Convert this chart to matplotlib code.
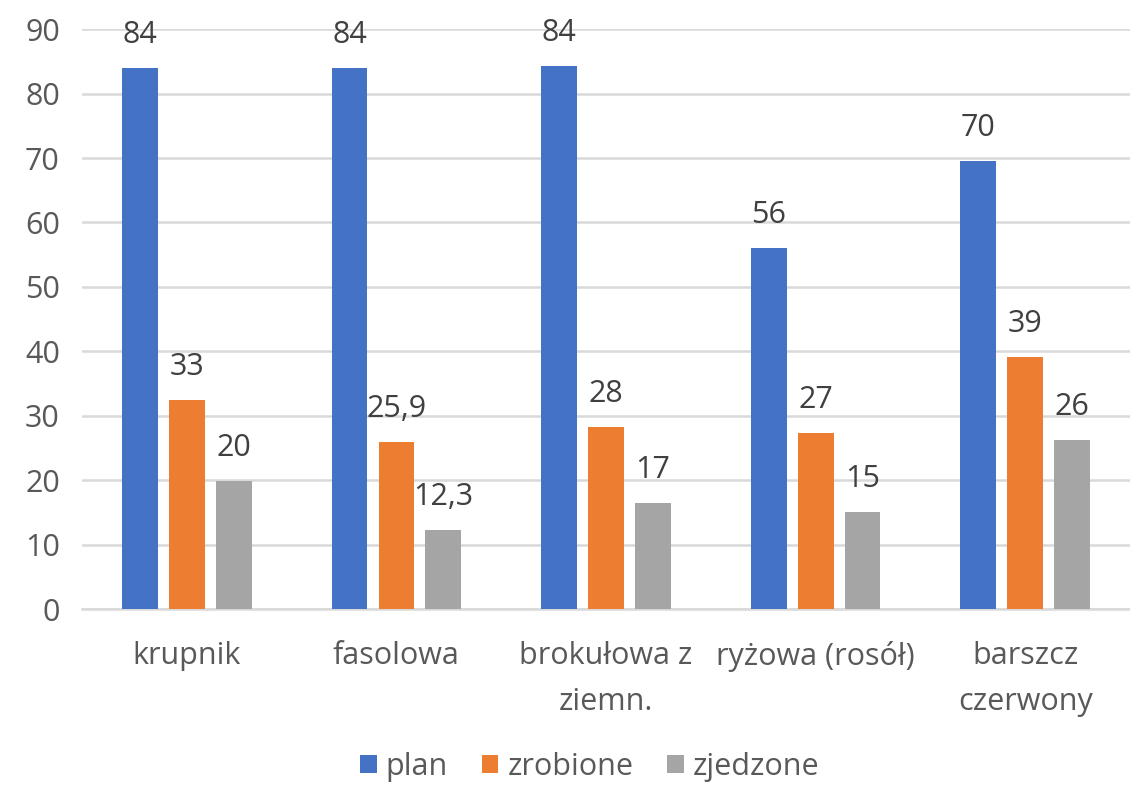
import numpy as np
import matplotlib.pyplot as plt

plt.switch_backend("Agg")
plt.rcParams["font.family"] = ["Open Sans", "DejaVu Sans"]

# Chart data
categories = ["krupnik", "fasolowa", "brokułowa z\nziemn.", "ryżowa (rosół)", "barszcz\nczerwony"]
plan = [84.0, 84.0, 84.3, 56.0, 69.6]
zrobione = [32.5, 25.9, 28.3, 27.3, 39.1]
zjedzone = [19.9, 12.3, 16.5, 15.1, 26.2]
plan_labels = ["84", "84", "84", "56", "70"]
zrobione_labels = ["33", "25,9", "28", "27", "39"]
zjedzone_labels = ["20", "12,3", "17", "15", "26"]
series_names = ["plan", "zrobione", "zjedzone"]
y_ticks = [0, 10, 20, 30, 40, 50, 60, 70, 80, 90]

colors = ["#4472C4", "#ED7D31", "#A5A5A5"]
text_color = "#595959"
label_color = "#404040"
fs = 22

fig = plt.figure(figsize=(11.3, 7.87), dpi=100)
ax = fig.add_axes([0.0726, 0.226, 0.9274, 0.737])

x = np.arange(len(categories))
width = 0.171
step = 0.224

all_values = [plan, zrobione, zjedzone]
all_labels = [plan_labels, zrobione_labels, zjedzone_labels]
for i, (vals, labs, name) in enumerate(zip(all_values, all_labels, series_names)):
    pos = x + (i - 1) * step
    ax.bar(pos, vals, width=width, color=colors[i], label=name, zorder=3)
    for px, v, lab in zip(pos, vals, labs):
        ax.annotate(lab, (px, v), xytext=(0, 13), textcoords="offset points",
                    ha="center", va="bottom", fontsize=fs, color=label_color)

ax.set_xlim(-0.5, len(categories) - 0.5)
ax.set_ylim(0, 90)
ax.set_yticks(y_ticks)
ax.set_xticks(x)
ax.set_xticklabels(categories, fontsize=fs, color=text_color, linespacing=1.7)
ax.tick_params(axis="y", labelsize=fs, labelcolor=text_color, length=0, pad=16)
ax.tick_params(axis="x", length=0, pad=23)

ax.grid(axis="y", color="#D9D9D9", linewidth=1.8, zorder=0)
for s in ["top", "right", "left"]:
    ax.spines[s].set_visible(False)
ax.spines["bottom"].set_color("#D9D9D9")
ax.spines["bottom"].set_linewidth(1.8)

fig.legend(loc="lower center", bbox_to_anchor=(0.522, -0.028), ncol=3, frameon=False,
           fontsize=fs, labelcolor=text_color, handlelength=0.55, handleheight=0.55,
           handletextpad=0.3, columnspacing=1.1)

fig.savefig("out.png", dpi=100)
